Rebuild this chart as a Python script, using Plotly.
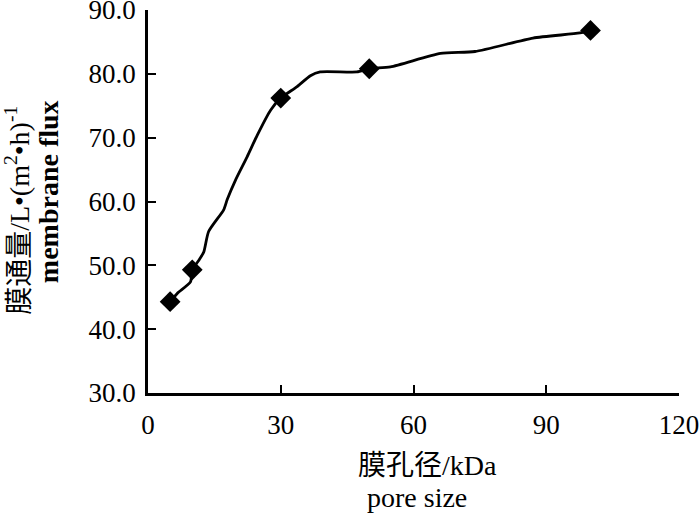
import plotly.graph_objects as go

# Data points
pore_size = [5, 10, 30, 50, 100]
flux = [44.3, 49.3, 76.2, 80.8, 86.8]

# Traced smooth line through the points
curve_x = [5.0, 6.6, 9.6, 10.0, 11.5, 12.6, 13.7, 17.1, 17.9, 19.8, 22.4, 24.7, 27.7,
           30.0, 33.7, 36.7, 38.9, 47.2, 50.0, 54.8, 66.1, 73.9, 87.0, 97.6, 100.0]
curve_y = [44.3, 45.6, 47.4, 49.3, 50.8, 52.1, 55.3, 58.7, 60.3, 63.4, 67.0, 70.4, 74.3,
           76.2, 78.0, 79.7, 80.3, 80.3, 80.8, 81.1, 83.2, 83.5, 85.6, 86.4, 86.8]

x_ticks = [0, 30, 60, 90, 120]
y_ticks = [30, 40, 50, 60, 70, 80, 90]

FONT = "Liberation Serif, Times New Roman, Noto Sans CJK SC, serif"

fig = go.Figure()
fig.add_trace(go.Scatter(x=curve_x, y=curve_y, mode="lines",
                         line=dict(color="black", width=2.8, shape="spline", smoothing=0.6),
                         hoverinfo="skip", showlegend=False))
fig.add_trace(go.Scatter(x=pore_size, y=flux, mode="markers",
                         marker=dict(symbol="diamond", size=16, color="black"),
                         showlegend=False))

fig.update_layout(
    width=700, height=513,
    margin=dict(l=148, r=21, t=10, b=120),
    paper_bgcolor="white", plot_bgcolor="white",
    font=dict(family=FONT, color="black"),
    xaxis=dict(range=[0, 120], tickvals=x_ticks, ticktext=[str(v) for v in x_ticks],
               showline=True, linecolor="black", linewidth=2.5, automargin=False,
               ticks="inside", ticklen=8, tickwidth=2, tickcolor="black",
               showgrid=False, zeroline=False, ticklabelstandoff=6,
               ticklabeloverflow="allow",
               tickfont=dict(family=FONT, size=27, color="black")),
    yaxis=dict(range=[30, 90], tickvals=y_ticks, ticktext=[f"{v:.1f}" for v in y_ticks],
               showline=True, linecolor="black", linewidth=2.5, automargin=False,
               ticks="inside", ticklen=8, tickwidth=2, tickcolor="black",
               showgrid=False, zeroline=False, ticklabelstandoff=4,
               ticklabeloverflow="allow",
               tickfont=dict(family=FONT, size=27, color="black")),
)

fig.add_annotation(text="膜孔径/kDa", xref="paper", yref="paper",
                   x=0.527, y=-0.188, showarrow=False, xanchor="center", yanchor="middle",
                   font=dict(family=FONT, size=28, color="black"))
fig.add_annotation(text="pore size", xref="paper", yref="paper",
                   x=0.507, y=-0.272, showarrow=False, xanchor="center", yanchor="middle",
                   font=dict(family=FONT, size=28, color="black"))
fig.add_annotation(text="膜通量/L•(m<sup>2</sup>•h)<sup>-1</sup>", xref="paper", yref="paper",
                   x=-0.245, y=0.478, showarrow=False, textangle=-90,
                   xanchor="center", yanchor="middle",
                   font=dict(family=FONT, size=28, color="black"))
fig.add_annotation(text="<b>membrane flux</b>", xref="paper", yref="paper",
                   x=-0.186, y=0.525, showarrow=False, textangle=-90,
                   xanchor="center", yanchor="middle",
                   font=dict(family=FONT, size=28, color="black"))

fig.write_html("out.html", config={"displayModeBar": False},
               post_script="document.body.style.margin='0';")
